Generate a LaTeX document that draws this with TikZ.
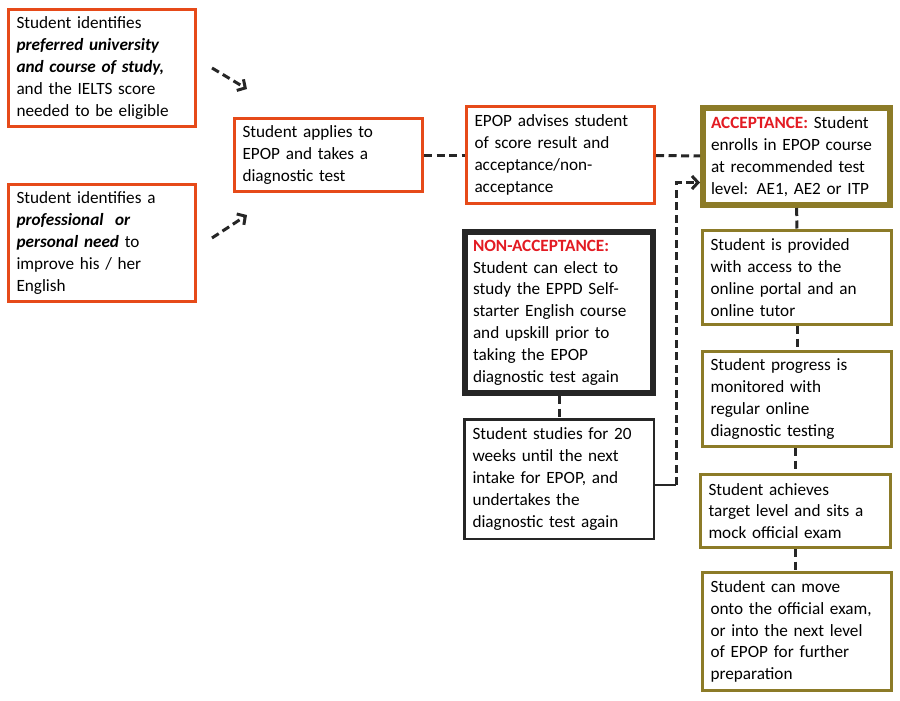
\documentclass[tikz,border=0pt]{standalone}
\usepackage{fontspec}
\setmainfont{Carlito}
\usetikzlibrary{positioning, arrows.meta, calc}
\definecolor{redline}{HTML}{E64A19}
\definecolor{oliveline}{HTML}{8C7B28}
\definecolor{darkline}{HTML}{262626}
\definecolor{alertred}{HTML}{E31B23}
\tikzset{
  basebox/.style={rectangle, align=left, inner xsep=8pt, inner ysep=3pt, fill=white, font=\fontsize{17.2}{21.8}\selectfont},
  redbox/.style={basebox, draw=redline, line width=3pt},
  olivebox/.style={basebox, draw=oliveline, line width=3pt},
  acceptbox/.style={basebox, draw=oliveline, line width=6pt},
  nonbox/.style={basebox, draw=darkline, line width=6pt},
  plainbox/.style={basebox, draw=darkline, line width=2.5pt},
  link/.style={draw=darkline, line width=3pt, dash pattern=on 8pt off 4.5pt},
  arrow/.style={link, -{Straight Barb[length=6pt,width=13pt]}}
}
\begin{document}
\begin{tikzpicture}[x=1pt, y=-1pt]
  \useasboundingbox (0,0) rectangle (900,701);
  % Einstieg
  \node (ident1) [redbox, minimum width=187pt, minimum height=117pt, text width=171pt] at (102,68)
    {Student identifies\\ \textbf{\textit{preferred university}}\\ \textbf{\textit{and course of study,}}\\ and the IELTS score\\ needed to be eligible};
  \node (ident2) [redbox, minimum width=187pt, minimum height=117pt, text width=171pt] at (102,243)
    {Student identifies a\\ \textbf{\textit{professional\ \ or}}\\ \textbf{\textit{personal need}} to\\ improve his / her\\ English};
  \node (apply1) [redbox, minimum width=188pt, minimum height=73pt, text width=172pt] at (328.5,155)
    {Student applies to\\ EPOP and takes a\\ diagnostic test};
  \node (advise1) [redbox, minimum width=188pt, minimum height=97pt, text width=172pt] at (560.5,155)
    {EPOP advises student\\ of score result and\\ acceptance/non-\\ acceptance};

  % Rama aceptacion
  \node (accept1) [acceptbox, minimum width=187pt, minimum height=97pt, text width=171pt] at (796.5,156.5)
    {\textcolor{alertred}{\textbf{ACCEPTANCE:}} Student\\ enrolls in EPOP course\\ at recommended test\\ level: AE1, AE2 or ITP};
  \node (portal1) [olivebox, minimum width=189pt, minimum height=94pt, text width=173pt] at (797,277.5)
    {Student is provided\\ with access to the\\ online portal and an\\ online tutor};
  \node (progress1) [olivebox, minimum width=189pt, minimum height=95pt, text width=173pt] at (797,399)
    {Student progress is\\ monitored with\\ regular online\\ diagnostic testing};
  \node (mock1) [olivebox, minimum width=190pt, minimum height=73pt, text width=174pt] at (795.5,511)
    {Student achieves\\ target level and sits a\\ mock official exam};
  \node (exam1) [olivebox, minimum width=189pt, minimum height=118pt, text width=173pt] at (797,631.5)
    {Student can move\\ onto the official exam,\\ or into the next level\\ of EPOP for further\\ preparation};

  % Rama no aceptacion
  \node (nonaccept1) [nonbox, minimum width=188pt, minimum height=161pt, text width=172pt] at (559,312.5)
    {\textcolor{alertred}{\textbf{NON-ACCEPTANCE:}}\\ Student can elect to\\ study the EPPD Self-\\ starter English course\\ and upskill prior to\\ taking the EPOP\\ diagnostic test again};
  \node (study1) [plainbox, minimum width=189.5pt, minimum height=119.5pt, text width=173pt] at (559,479)
    {Student studies for 20\\ weeks until the next\\ intake for EPOP, and\\ undertakes the\\ diagnostic test again};

  % Flechas de entrada
  \coordinate (in1s) at (212,68);
  \coordinate (in1e) at (247,89);
  \coordinate (in2s) at (212,238);
  \coordinate (in2e) at (247,215);
  \draw [arrow] (in1s) -- (in1e);
  \draw [arrow] (in2s) -- (in2e);

  % Flujo principal
  \draw [link] (apply1) -- (advise1);
  \draw [link] (advise1) -- (accept1);
  \draw [link] (accept1) -- (portal1);
  \draw [link] (portal1) -- (progress1);
  \draw [link] (progress1.south -| mock1.north) -- (mock1);
  \draw [link] (mock1) -- (exam1.north -| mock1.south);
  \draw [link] (nonaccept1) -- (study1);

  % Retorno al curso
  \coordinate (turn1) at (676,485);
  \draw [draw=darkline, line width=2.5pt] (study1.east |- turn1) -- (turn1);
  \draw [arrow] (turn1) |- ([yshift=-26pt]accept1.west);
\end{tikzpicture}
\end{document}
